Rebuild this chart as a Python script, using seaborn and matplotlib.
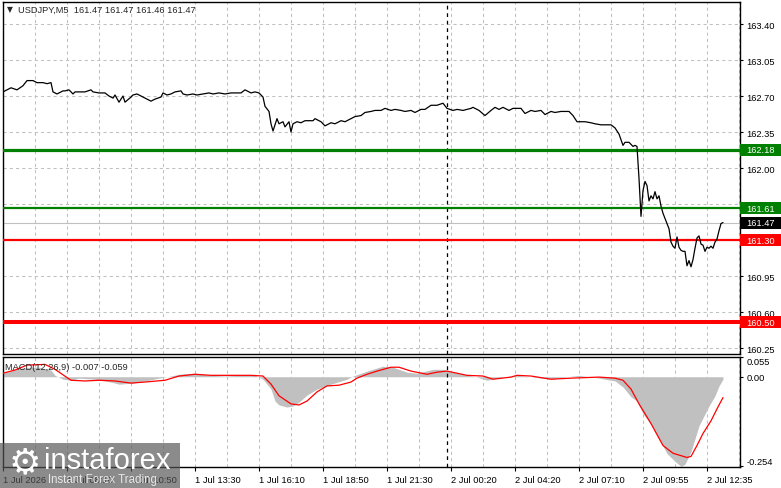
import matplotlib
matplotlib.use("Agg")
import matplotlib.pyplot as plt
import matplotlib.transforms as mtransforms
from matplotlib.patches import Rectangle
import seaborn as sns

# USDJPY M5 closes, bar number (5 min bars) -> price
price_bar = [0, 4, 7, 10, 12, 15, 17, 20, 22, 24, 25, 27, 30, 31, 33, 35, 36, 38, 41, 44,
             45, 48, 51, 53, 55, 56, 58, 60, 61, 64, 65, 67, 70, 72, 74, 76, 79, 80, 82, 84,
             86, 89, 90, 92, 95, 97, 100, 103, 105, 108, 111, 114, 116, 119, 121, 124, 126, 128,
             130, 131, 133, 134, 135, 137, 138, 140, 141, 143, 144, 145, 147, 149, 151, 153, 155, 156,
             159, 161, 164, 166, 169, 171, 174, 176, 179, 181, 184, 186, 189, 191, 194, 196, 199, 201,
             204, 206, 209, 211, 214, 217, 220,
             222, 225, 227, 230, 234, 235, 238, 241, 244, 246, 248, 250, 253, 255, 259, 261, 264, 266,
             269, 271, 274, 276, 279, 283, 285, 287, 289, 291, 294, 296, 299, 304, 306, 308, 310, 311,
             313, 315, 316, 317,
             318, 319, 320, 321, 322, 323, 324, 325, 326, 327, 328, 329, 330, 331, 332, 333, 334, 335,
             336, 337, 338, 339, 340, 341, 342, 343, 344, 345, 346, 347, 348, 349, 350, 351, 352, 353,
             354, 355, 356, 357, 358, 359, 360]
price_close = [162.74, 162.78, 162.76, 162.80, 162.85, 162.85, 162.83, 162.83, 162.82, 162.83,
               162.74, 162.72, 162.75, 162.75, 162.76, 162.72, 162.74, 162.74, 162.74, 162.76,
               162.74, 162.73, 162.73, 162.70, 162.68, 162.71, 162.64, 162.70, 162.64, 162.69,
               162.71, 162.72, 162.69, 162.67, 162.65, 162.67, 162.69, 162.73, 162.71, 162.72,
               162.74, 162.75, 162.72, 162.71, 162.72, 162.71, 162.72, 162.73, 162.72, 162.73,
               162.72, 162.73, 162.73, 162.73, 162.76, 162.73, 162.74, 162.73,
               162.69, 162.60, 162.55, 162.43, 162.36, 162.48, 162.43, 162.45, 162.40, 162.45,
               162.35, 162.43, 162.45, 162.44, 162.46, 162.46, 162.46, 162.48, 162.45, 162.41,
               162.44, 162.43, 162.46, 162.45, 162.48, 162.50, 162.51, 162.54, 162.55, 162.56,
               162.56, 162.58, 162.56, 162.57, 162.56, 162.55, 162.56, 162.54, 162.57, 162.57,
               162.61, 162.61, 162.63,
               162.58, 162.56, 162.57, 162.56, 162.58, 162.59, 162.56, 162.51, 162.56, 162.59,
               162.57, 162.59, 162.56, 162.58, 162.58, 162.53, 162.56, 162.55, 162.56, 162.52,
               162.55, 162.54, 162.55, 162.55, 162.51, 162.45, 162.45, 162.45, 162.44, 162.43,
               162.42, 162.42, 162.39, 162.33, 162.22, 162.25, 162.25, 162.21, 162.22, 162.21,
               161.90, 161.53, 161.78, 161.87, 161.83, 161.68, 161.73, 161.70, 161.77, 161.70,
               161.73, 161.63, 161.56, 161.51, 161.46, 161.41, 161.28, 161.24, 161.22, 161.33,
               161.23, 161.20, 161.19, 161.19, 161.05, 161.10, 161.04, 161.11, 161.22, 161.32,
               161.34, 161.26, 161.25, 161.19, 161.23, 161.22, 161.24, 161.22, 161.28, 161.31,
               161.39, 161.46, 161.47]

# MACD(12,26,9) main (grey histogram) and signal (red line)
hist_bar = [0, 4, 8, 14, 18, 24, 26, 30, 34, 38, 46, 54, 58, 65, 71, 78, 84, 88, 96, 104,
            111, 118, 126, 130, 134, 136, 138, 142, 145, 148, 152, 157, 164, 172, 175, 182, 190, 195,
            202, 207, 215, 220, 227, 237, 242, 250, 257, 265, 274, 281, 288, 298, 306, 310, 314, 317,
            320, 324, 328, 332, 336, 339, 341, 344, 348, 353, 356, 358, 360]
hist_val = [0.010, 0.016, 0.024, 0.027, 0.027, 0.019, 0.004, -0.007, -0.010, -0.004,
            -0.007, -0.015, -0.021, -0.018, -0.012, -0.004, 0.002, 0.007, 0.010, 0.004,
            0.002, 0.004, 0.004, -0.007, -0.035, -0.069, -0.080, -0.086, -0.083, -0.072,
            -0.052, -0.035, -0.021, -0.007, 0.002, 0.016, 0.030, 0.027, 0.013, 0.010,
            0.021, 0.021, 0.010, -0.001, -0.010, -0.001, 0.004, -0.001, -0.007, -0.001,
            0.004, -0.004, -0.012, -0.029, -0.057, -0.069, -0.105, -0.134, -0.176, -0.218,
            -0.240, -0.254, -0.248, -0.212, -0.139, -0.083, -0.054, -0.026, -0.007]
signal_bar = [0, 6, 12, 21, 26, 34, 41, 48, 56, 64, 71, 81, 88, 96, 104, 114, 124, 130, 134, 138,
              144, 148, 152, 157, 162, 168, 174, 177, 182, 187, 194, 198, 204, 212, 217, 222, 227,
              232, 240, 245, 254, 257, 264, 274, 284, 298, 306, 310, 314, 318, 324, 330, 335, 342,
              344, 347, 350, 354, 357, 360]
signal_val = [0.010, 0.019, 0.033, 0.035, 0.021, -0.010, -0.012, -0.010, -0.012, -0.018,
              -0.015, -0.010, 0.002, 0.007, 0.004, 0.004, 0.004, 0.002, -0.021, -0.054,
              -0.077, -0.080, -0.069, -0.043, -0.026, -0.024, -0.015, -0.004, 0.007, 0.016,
              0.027, 0.027, 0.016, 0.007, 0.013, 0.016, 0.010, 0.004, 0.002, -0.007,
              -0.001, 0.004, 0.002, -0.007, -0.004, -0.001, -0.004, -0.010, -0.035, -0.077,
              -0.133, -0.195, -0.217, -0.229, -0.226, -0.195, -0.161, -0.125, -0.091, -0.059]

level_values = [162.18, 161.61, 161.30, 160.50]
level_labels = ["162.18", "161.61", "161.30", "160.50"]
level_colors = ["#008000", "#008000", "#ff0000", "#ff0000"]
last_price = 161.47
price_ticks = [163.40, 163.05, 162.70, 162.35, 162.00, 161.65, 161.30, 160.95, 160.60, 160.25]
macd_ticks = [0.055, 0.0, -0.254]
macd_tick_labels = ["0.055", "0.00", "-0.254"]
time_bars = list(range(0, 353, 32))
time_labels = ["1 Jul 2026", "1 Jul 08:10", "1 Jul 10:50", "1 Jul 13:30", "1 Jul 16:10",
               "1 Jul 18:50", "1 Jul 21:30", "2 Jul 00:20", "2 Jul 04:20", "2 Jul 07:10",
               "2 Jul 09:55", "2 Jul 12:35"]
cursor_bar = 222

sns.set_style("white")
plt.rcParams["font.family"] = ["Liberation Sans", "DejaVu Sans"]
plt.rcParams["font.size"] = 6.7

W, H = 781, 489
fig = plt.figure(figsize=(W / 100, H / 100), dpi=100)
ax = fig.add_axes([3 / W, 1 - 355 / H, 737 / W, 352 / H])
ax2 = fig.add_axes([3 / W, 1 - 468 / H, 737 / W, 110 / H], sharex=ax)

grid_kw = dict(color="#c0c0c0", linestyle=(0, (3, 3)), linewidth=0.75)

for a in (ax, ax2):
    a.set_xlim(0, 368.5)
    a.set_xticks(time_bars)
    a.set_xticks(range(16, 369, 32), minor=True)
    a.grid(True, which="both", axis="x", **grid_kw)
    a.axvline(cursor_bar, color="black", linestyle=(0, (3, 3)), linewidth=0.9, zorder=3)
    for s in a.spines.values():
        s.set_color("black")
        s.set_linewidth(1)
    a.yaxis.tick_right()
    a.tick_params(axis="y", direction="out", length=2.5, width=0.8, pad=2,
                  labelsize=6.7, colors="black", left=False, right=True)
    a.tick_params(axis="x", which="minor", length=0)

# price panel
sns.lineplot(x=price_bar, y=price_close, ax=ax, color="black", linewidth=0.9,
             estimator=None, zorder=5)
ax.set_ylim(160.192, 163.614)
ax.set_yticks(price_ticks)
ax.set_yticklabels([f"{v:.2f}" for v in price_ticks])
ax.grid(True, axis="y", **grid_kw)
ax.tick_params(axis="x", which="major", length=0, labelbottom=False)

ax.axhline(last_price, color="#c0c0c0", linewidth=0.8, zorder=2)
for val, col, lw in zip(level_values, level_colors, [2.3, 1.6, 1.6, 2.9]):
    ax.axhline(val, color=col, linewidth=lw, zorder=4)

trans = mtransforms.blended_transform_factory(ax.transAxes, ax.transData)
box_h = 12 / 352 * (163.614 - 160.192)


def price_box(val, text, col):
    ax.add_patch(Rectangle((1.0, val - box_h / 2), 41 / 737, box_h, transform=trans,
                           facecolor=col, edgecolor="none", clip_on=False, zorder=6))
    ax.text(1.0 + 6 / 737, val, text, transform=trans, color="white", va="center",
            ha="left", fontsize=6.7, zorder=7, clip_on=False)


for val, txt, col in zip(level_values, level_labels, level_colors):
    price_box(val, txt, col)
price_box(last_price, f"{last_price:.2f}", "black")

# MACD panel
ax2.fill_between(hist_bar, 0, hist_val, color="#c0c0c0", linewidth=0, zorder=2)
sns.lineplot(x=signal_bar, y=signal_val, ax=ax2, color="#ff0000", linewidth=0.9,
             estimator=None, zorder=4)
ax2.set_ylim(-0.256, 0.056)
ax2.set_yticks(macd_ticks)
ax2.set_yticklabels(macd_tick_labels)
ylabs = ax2.get_yticklabels()
ylabs[0].set_va("top")
ylabs[2].set_va("bottom")
ax2.set_xticklabels(time_labels, ha="left")
ax2.tick_params(axis="x", which="major", direction="out", length=3, width=0.8, pad=3,
                labelsize=6.7, colors="black", bottom=True)
ax2.text(2 / 737, 100 / 110, "MACD(12,26,9) -0.007 -0.059", transform=ax2.transAxes,
         va="center", ha="left", fontsize=6.7, zorder=8)

for a in (ax, ax2):
    a.set_xlabel("")
    a.set_ylabel("")

# header
fig.text(7 / W, 1 - 10 / H, "\u25bc", fontsize=5.5, va="center", ha="left",
         family=["DejaVu Sans"])
fig.text(18 / W, 1 - 10 / H, "USDJPY,M5  161.47 161.47 161.46 161.47", fontsize=6.7,
         va="center", ha="left")

# watermark
fig.add_artist(Rectangle((0, 0), 180 / W, 45 / H, transform=fig.transFigure,
                         facecolor="#555555", alpha=0.68, edgecolor="none", zorder=20))
fig.text(25 / W, 1 - 463 / H, "\u2699", fontsize=26, color="white", va="center",
         ha="center", family=["DejaVu Sans"], zorder=21)
fig.text(44 / W, 1 - 461 / H, "instaforex", fontsize=21, color="white", va="center",
         ha="left", zorder=21)
fig.text(48 / W, 1 - 480 / H, "Instant Forex Trading", fontsize=8.3, color="#e8e8e8",
         va="center", ha="left", zorder=21)

fig.savefig("out.png", dpi=100)
